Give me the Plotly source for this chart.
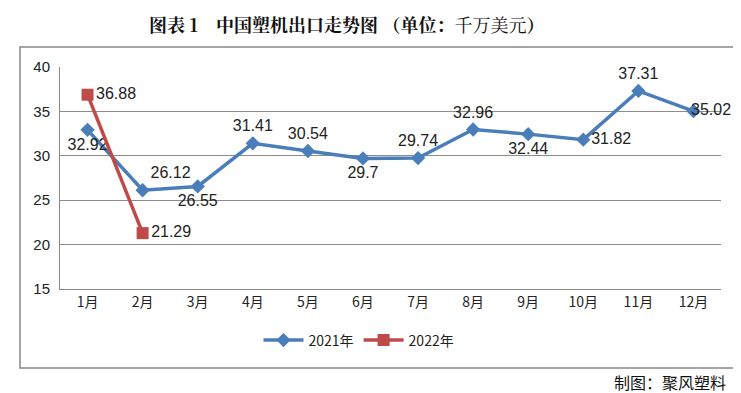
import plotly.graph_objects as go

months = ["1月", "2月", "3月", "4月", "5月", "6月", "7月", "8月", "9月", "10月", "11月", "12月"]
v2021 = [32.92, 26.12, 26.55, 31.41, 30.54, 29.7, 29.74, 32.96, 32.44, 31.82, 37.31, 35.02]
months2022 = ["1月", "2月"]
v2022 = [36.88, 21.29]
pos2021 = ["bottom center", "top right", "bottom center", "top center", "top center", "bottom center",
           "top center", "top center", "bottom center", "middle right", "top center", "middle center"]
pos2022 = ["middle right", "middle right"]

W, H = 741, 393
L, R, T, B = 52, 28, 59, 112
PW, PH = W - L - R, H - T - B

labels2021 = [f"{v:g}" for v in v2021]
labels2021[-1] = "\u2003\u2003\u2009" + labels2021[-1]

fig = go.Figure()
fig.add_trace(go.Scatter(
    x=months, y=v2021, name="2021年", mode="lines+markers+text", cliponaxis=False,
    line=dict(color="#4A7EBB", width=3.5),
    marker=dict(symbol="diamond", size=11, color="#4A7EBB"),
    text=labels2021, textposition=pos2021,
    textfont=dict(size=16, color="#222222", family="Liberation Sans, Arial"),
))
fig.add_trace(go.Scatter(
    x=months2022, y=v2022, name="2022年", mode="lines+markers+text", cliponaxis=False,
    line=dict(color="#BE4B48", width=3.5),
    marker=dict(symbol="square", size=12, color="#BE4B48"),
    text=[f"{v:g}" for v in v2022], textposition=pos2022,
    textfont=dict(size=16, color="#222222", family="Liberation Sans, Arial"),
))

fig.update_layout(
    width=W, height=H,
    margin=dict(l=L, r=R, t=T, b=B, autoexpand=False),
    paper_bgcolor="white", plot_bgcolor="white",
    font=dict(family="Noto Sans CJK SC, Liberation Sans", size=13, color="#222222"),
    showlegend=True,
    legend=dict(orientation="h", x=(351 - L) / PW, xanchor="center", y=-0.16, yanchor="top",
                font=dict(size=14), itemwidth=40, traceorder="normal"),
    xaxis=dict(type="category", showgrid=False, showline=True, linecolor="#888888", linewidth=1,
               ticks="", tickfont=dict(size=14), range=[-0.5, 11.5], automargin=False),
    yaxis=dict(range=[15, 40], dtick=5, showgrid=True, gridcolor="#8c8c8c", gridwidth=1,
               showline=True, linecolor="#888888", linewidth=1, zeroline=False, automargin=False,
               ticks="", tickfont=dict(size=15, family="Liberation Sans, Arial"), ticklabelstandoff=6),
    annotations=[
        dict(text="<b>图表 1　中国塑机出口走势图 （单位：</b>千万美元<b>）</b>",
             xref="paper", yref="paper", x=(338 - L) / PW, y=1 + (T - 16) / PH,
             xanchor="center", yanchor="middle", showarrow=False,
             font=dict(size=18, family="Noto Serif CJK SC, Noto Sans CJK SC", color="#111111")),
        dict(text="制图：聚风塑料", xref="paper", yref="paper",
             x=(720 - L) / PW, y=-(374 - (H - B)) / PH,
             xanchor="right", yanchor="middle", showarrow=False,
             font=dict(size=16, color="#111111")),
    ],
    shapes=[
        dict(type="rect", xref="paper", yref="paper",
             x0=(12 - L) / PW, x1=(729 - L) / PW,
             y0=-(360 - (H - B)) / PH, y1=1 + (T - 39) / PH,
             line=dict(color="#888888", width=1.5), layer="below"),
    ],
)

fig.write_html("out.html")
